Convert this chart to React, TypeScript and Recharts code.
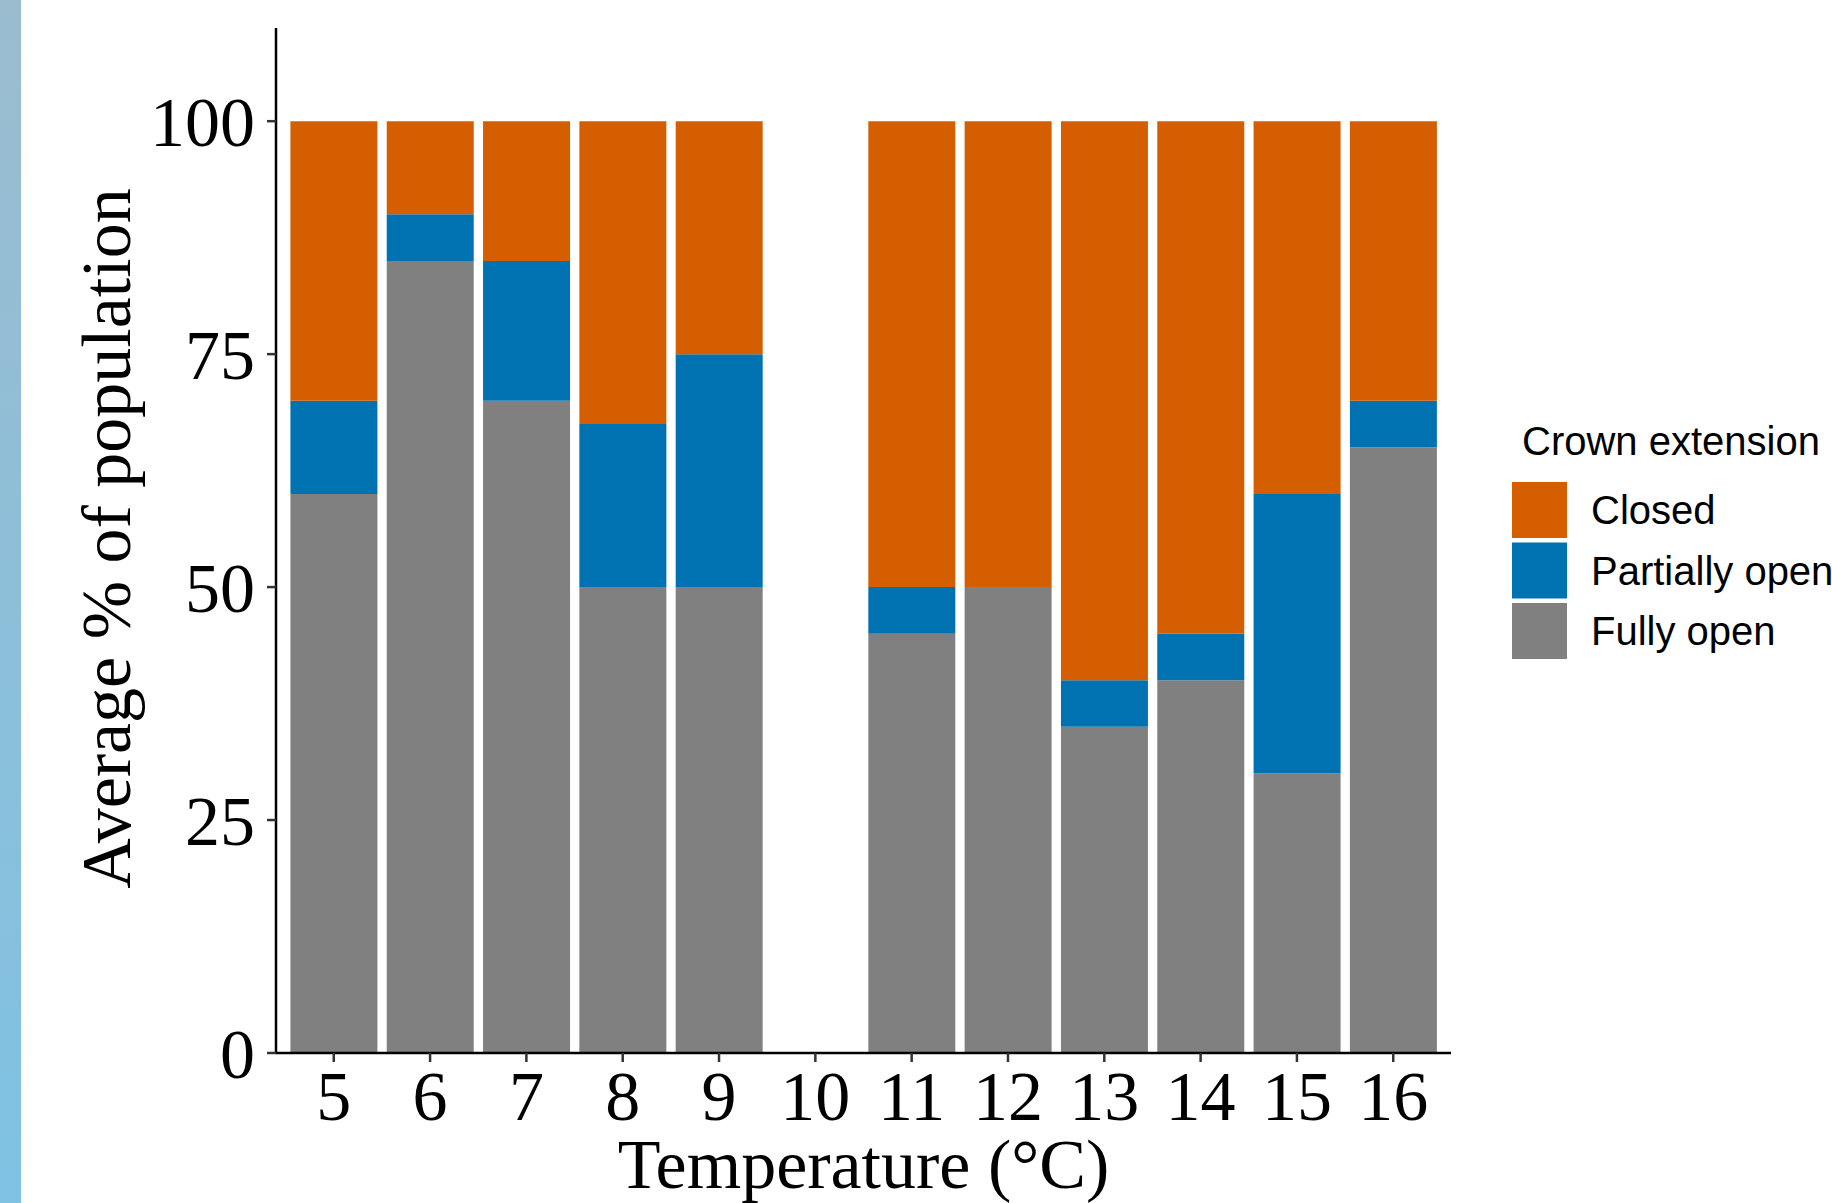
import { BarChart, Bar, XAxis, YAxis } from "recharts";

const temps = ["5", "6", "7", "8", "9", "10", "11", "12", "13", "14", "15", "16"];
const fullyOpen = [60, 85, 70, 50, 50, 0, 45, 50, 35, 40, 30, 65];
const partiallyOpen = [10, 5, 15, 17.5, 25, 0, 5, 0, 5, 5, 30, 5];
const closed = [30, 10, 15, 32.5, 25, 0, 50, 50, 60, 55, 40, 30];
const yTicks = [0, 25, 50, 75, 100];

const series = [
  { key: "closed", name: "Closed", color: "#D55E00" },
  { key: "partial", name: "Partially open", color: "#0072B2" },
  { key: "fully", name: "Fully open", color: "#808080" },
];

const data = temps.map((t, i) => ({
  temp: t,
  fully: fullyOpen[i],
  partial: partiallyOpen[i],
  closed: closed[i],
}));

const serif = "'Liberation Serif', 'Times New Roman', serif";
const sans = "'Liberation Sans', Arial, sans-serif";
const tickFont = { fontFamily: serif, fontSize: 70, fill: "#000" };

// legend drawn by hand, ggplot style (title on top, square keys)
function LegendBox() {
  return (
    <svg width={332} height={280} style={{ display: "block" }}>
      <text x={22} y={55} fontFamily={sans} fontSize={40} fill="#000">
        Crown extension
      </text>
      {series.map((s, i) => (
        <g key={s.key}>
          <rect x={12} y={82 + i * 60.5} width={55} height={56} fill={s.color} />
          <text x={91} y={124 + i * 60.5} fontFamily={sans} fontSize={40} fill="#000">
            {s.name}
          </text>
        </g>
      ))}
    </svg>
  );
}

export default function App() {
  return (
    <div style={{ position: "absolute", left: 0, top: 0, width: 1832, height: 1203, background: "#fff", overflow: "hidden" }}>
      <div style={{ position: "absolute", left: 0, top: 0, width: 21, height: 1203, background: "linear-gradient(#9BBCCF, #7FC2E3)" }} />
      <BarChart
        width={1832}
        height={1203}
        data={data}
        margin={{ top: 28, right: 381, bottom: 0, left: 0 }}
        barCategoryGap="5%"
      >
        <XAxis
          dataKey="temp"
          height={150}
          padding={{ left: 9.6, right: 9.6 }}
          axisLine={{ stroke: "#000", strokeWidth: 2.5 }}
          tickLine={{ stroke: "#333", strokeWidth: 2.5 }}
          tickSize={9}
          tickMargin={8}
          tick={tickFont}
          interval={0}
          label={{
            content: ({ viewBox }: any) => (
              <text
                x={viewBox.x + viewBox.width / 2}
                y={viewBox.y + 135}
                textAnchor="middle"
                fontFamily={serif}
                fontSize={70}
                fill="#000"
              >
                Temperature (°C)
              </text>
            ),
          }}
        />
        <YAxis
          width={276}
          domain={[0, 110]}
          ticks={yTicks}
          allowDataOverflow
          axisLine={{ stroke: "#000", strokeWidth: 2.5 }}
          tickLine={{ stroke: "#333", strokeWidth: 2.5 }}
          tickSize={9}
          tickMargin={12}
          tick={tickFont}
          label={{
            content: ({ viewBox }: any) => {
              const cx = 130;
              const cy = viewBox.y + viewBox.height / 2 - 2;
              return (
                <text
                  x={cx}
                  y={cy}
                  transform={`rotate(-90, ${cx}, ${cy})`}
                  textAnchor="middle"
                  fontFamily={serif}
                  fontSize={70}
                  fill="#000"
                >
                  Average % of population
                </text>
              );
            },
          }}
        />
        <Bar dataKey="fully" name="Fully open" stackId="a" fill="#808080" isAnimationActive={false} />
        <Bar dataKey="partial" name="Partially open" stackId="a" fill="#0072B2" isAnimationActive={false} />
        <Bar dataKey="closed" name="Closed" stackId="a" fill="#D55E00" isAnimationActive={false} />
      </BarChart>
      <div style={{ position: "absolute", left: 1500, top: 400 }}>
        <LegendBox />
      </div>
    </div>
  );
}
